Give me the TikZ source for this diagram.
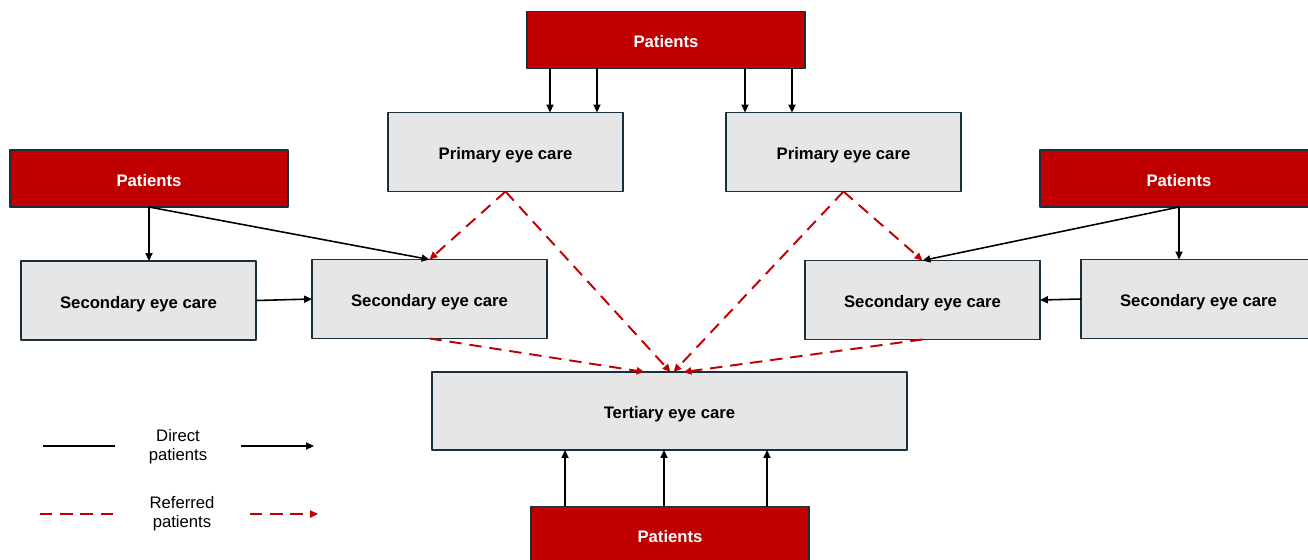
\documentclass[tikz,border=0pt]{standalone}
\usepackage{fontspec}
\setmainfont{Liberation Sans}
\usetikzlibrary{arrows.meta}
\definecolor{boxred}{HTML}{C00000}
\definecolor{boxline}{HTML}{1B2E3C}
\definecolor{boxgray}{HTML}{E7E6E6}
\tikzset{
	patbox/.style={draw=boxline, fill=boxred, line width=1.1pt, text=white, font=\bfseries\fontsize{9.5}{11}\selectfont, minimum width=5.56cm, minimum height=1.14cm, inner sep=0pt, outer sep=0pt, text height=0.87em, text depth=0pt},
	carebox/.style={draw=boxline, fill=boxgray, line width=1.1pt, font=\bfseries\fontsize{9.5}{11}\selectfont, minimum width=4.7cm, minimum height=1.58cm, inner sep=0pt, outer sep=0pt, text height=0.87em, text depth=0pt},
	direct/.style={->, line width=0.9pt},
	referred/.style={->, boxred, line width=1.1pt, dash pattern=on 7pt off 4.5pt},
	legtext/.style={align=center, font=\fontsize{9.5}{10.8}\selectfont}
}
\begin{document}
\begin{tikzpicture}[x=0.02cm, y=-0.02cm, line join=round, >={Triangle[length=4.5pt, width=4pt]}]
	\useasboundingbox (0,0) rectangle (1308,559);
	% patient boxes
	\node[patbox] (patTop) at (666,40) {Patients};
	\node[patbox] (patL) at (149,178.5) {Patients};
	\node[patbox] (patR) at (1179,178.5) {Patients};
	\node[patbox] (patBot) at (670,535) {Patients};
	% care boxes
	\node[carebox] (primL) at (505.5,152) {Primary eye care};
	\node[carebox] (primR) at (843.5,152) {Primary eye care};
	\node[carebox] (secLL) at (138.5,300.5) {Secondary eye care};
	\node[carebox] (secL) at (429.5,299) {Secondary eye care};
	\node[carebox] (secR) at (922.5,300) {Secondary eye care};
	\node[carebox] (secRR) at (1198.5,299) {Secondary eye care};
	\node[carebox, minimum width=9.5cm, minimum height=1.56cm] (tert) at (669.5,411) {Tertiary eye care};
	% direct patients
	\foreach \dx/\tgt [count=\i] in {-116/primL, -69/primL, 79/primR, 126/primR}{
		\coordinate (t\i) at ([xshift=\dx*0.02cm]patTop.south);
		\draw[direct] (t\i) -- (t\i |- \tgt.north);
	}
	\foreach \dx [count=\i] in {-105, -6, 97}{
		\coordinate (b\i) at ([xshift=\dx*0.02cm]patBot.north);
		\draw[direct] (b\i) -- (b\i |- tert.south);
	}
	\draw[direct] (patL.south) -- (patL.south |- secLL.north);
	\draw[direct] (patL.south) -- (secL.north);
	\draw[direct] (secLL.east) -- (secL.west);
	\draw[direct] (patR.south) -- (patR.south |- secRR.north);
	\draw[direct] (patR.south) -- (secR.north);
	\draw[direct] (secRR.west) -- (secR.east);
	% referred patients
	\draw[referred] (primL.south) -- ([xshift=0.02cm]tert.north);
	\draw[referred] (primL.south) -- (secL.north);
	\draw[referred] (primR.south) -- (secR.north);
	\draw[referred] (primR.south) -- ([xshift=0.08cm]tert.north);
	\draw[referred] (secL.south) -- ([xshift=-0.5cm]tert.north);
	\draw[referred] (secR.south) -- ([xshift=0.28cm]tert.north);
	% legend
	\node[legtext] (dirTxt) at (178,447) {Direct\\patients};
	\node[legtext] (refTxt) at (182,514) {Referred\\patients};
	\coordinate (d1) at (43,446); \coordinate (d2) at (115,446);
	\coordinate (d3) at (241,446); \coordinate (d4) at (314,446);
	\coordinate (r1) at (40,514); \coordinate (r2) at (120,514);
	\coordinate (r3) at (250,514); \coordinate (r4) at (318,514);
	\draw[line width=0.9pt] (d1) -- (d2);
	\draw[direct] (d3) -- (d4);
	\draw[referred, -] (r1) -- (r2);
	\draw[referred] (r3) -- (r4);
\end{tikzpicture}
\end{document}
